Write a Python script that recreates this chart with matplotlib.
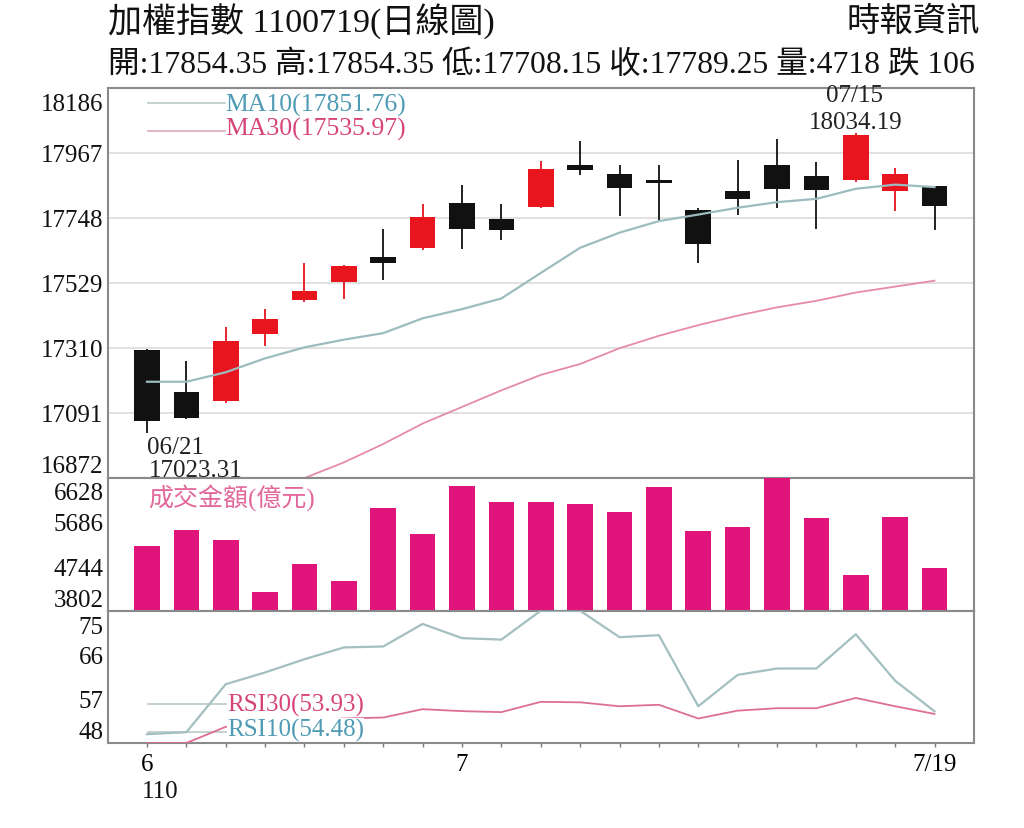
import matplotlib
matplotlib.use('Agg')
import matplotlib.pyplot as plt
import matplotlib.transforms as mtransforms
import numpy as np

# ---------------- data ----------------
dates = ['06/21', '06/22', '06/23', '06/24', '06/25', '06/28', '06/29', '06/30',
         '07/01', '07/02', '07/05', '07/06', '07/07', '07/08', '07/09', '07/12',
         '07/13', '07/14', '07/15', '07/16', '07/19']
opens = [17302, 17160, 17129, 17356, 17470, 17533, 17616, 17647, 17799, 17745, 17784,
         17925, 17896, 17877, 17776, 17840, 17927, 17888, 17877, 17838, 17854.35]
highs = [17305, 17266, 17379, 17440, 17594, 17590, 17709, 17793, 17860, 17793, 17941,
         18006, 17927, 17927, 17780, 17944, 18014, 17938, 18034.19, 17916, 17854.35]
lows = [17023.31, 17070, 17125, 17317, 17465, 17474, 17537, 17640, 17644, 17672, 17780,
        17891, 17754, 17737, 17597, 17756, 17782, 17712, 17870, 17770, 17708.15]
closes = [17063, 17074, 17334, 17406, 17500, 17586, 17597, 17752, 17712, 17707, 17913,
          17911, 17849, 17866, 17659, 17812, 17846, 17843, 18028, 17895, 17789.25]
ma10 = [17195, 17195, 17227, 17274, 17311, 17337, 17359, 17409, 17440, 17476, 17562,
        17647, 17698, 17737, 17759, 17782, 17801, 17812, 17846, 17860, 17851.76]
ma30 = [16760, 16780, 16805, 16835, 16870, 16923, 16985, 17054, 17110, 17166, 17218,
        17255, 17308, 17350, 17386, 17418, 17446, 17468, 17496, 17516, 17535.97]
volume = [5168, 5510, 5296, 4208, 4799, 4442, 5973, 5439, 6457, 6116, 6101,
          6058, 5902, 6421, 5488, 5574, 6628, 5759, 4564, 5781, 4718]
rsi10 = [49.8, 50.2, 60.0, 62.4, 65.1, 67.5, 67.7, 72.3, 69.4, 69.1, 75.0,
         75.0, 69.6, 70.0, 55.5, 61.9, 63.2, 63.2, 70.2, 60.7, 54.48]
rsi30 = [48.0, 48.0, 51.3, 51.9, 52.5, 53.0, 53.2, 54.9, 54.5, 54.3, 56.4,
         56.3, 55.5, 55.8, 53.0, 54.6, 55.1, 55.1, 57.2, 55.5, 53.93]
price_ticks = [16872, 17091, 17310, 17529, 17748, 17967, 18186]
vol_ticks = [3802, 4744, 5686, 6628]
rsi_ticks = [48, 57, 66, 75]
x_labels = {0: '6', 8: '7', 20: '7/19'}

title_text = '加權指數 1100719(日線圖)'
source_text = '時報資訊'
info_text = '開:17854.35 高:17854.35 低:17708.15 收:17789.25 量:4718 跌 106'
vol_label = '成交金額(億元)'

# ---------------- style ----------------
plt.rcParams['font.family'] = ['Liberation Serif', 'Noto Sans CJK TC']
RED = '#E8141E'
BLACK = '#111111'
MAGENTA = '#E0147A'
MA10_C = '#9DBCBF'
MA30_C = '#E58BA8'
MA10_T = '#4F9BB5'
MA30_T = '#D6447A'
SPINE = '#8a8a8a'

fig = plt.figure(figsize=(10.24, 8.29), dpi=100)
H = 829.0
def fy(px):
    return 1 - px / H

L = 107.6 / 1024
W = (973.9 - 107.6) / 1024
ax1 = fig.add_axes([L, fy(478.5), W, fy(89) - fy(478.5)])
ax2 = fig.add_axes([L, fy(611.7), W, fy(478.5) - fy(611.7)], sharex=ax1)
ax3 = fig.add_axes([L, fy(744), W, fy(611.7) - fy(744)], sharex=ax1)

x = np.arange(len(dates))
o = np.array(opens); c = np.array(closes); hi = np.array(highs); lo = np.array(lows)
up = c >= o
colors = [RED if u else BLACK for u in up]

# ---------------- main panel ----------------
ax1.vlines(x, lo, hi, colors=colors, lw=1.3, zorder=3)
ax1.bar(x, np.abs(c - o), bottom=np.minimum(o, c), width=0.65, color=colors, zorder=4)
ax1.plot(x, ma10, color=MA10_C, lw=1.6, zorder=5)
ax1.plot(x, ma30, color=MA30_C, lw=1.3, zorder=5)
ax1.set_ylim(price_ticks[0], price_ticks[-1])
ax1.set_yticks(price_ticks)
ax1.set_yticklabels([str(t) for t in price_ticks])
ax1.grid(axis='y', color='#dcdcdc', lw=1.2, zorder=0)

# annotations for low / high
ilo = int(np.argmin(lo)); ihi = int(np.argmax(hi))
ax1.annotate(dates[ilo], xy=(x[ilo], lo[ilo]), xytext=(0, -10), textcoords='offset points',
             ha='left', va='center', fontsize=18, color='#222222', annotation_clip=False)
ax1.annotate(f'{lo[ilo]:.2f}', xy=(x[ilo], lo[ilo]), xytext=(1, -27), textcoords='offset points',
             ha='left', va='center', fontsize=18, color='#222222', annotation_clip=False)
ax1.annotate(dates[ihi], xy=(x[ihi], hi[ihi]), xytext=(-1, 27.5), textcoords='offset points',
             ha='center', va='center', fontsize=18, color='#222222', annotation_clip=False)
ax1.annotate(f'{hi[ihi]:.2f}', xy=(x[ihi], hi[ihi]), xytext=(0, 8), textcoords='offset points',
             ha='center', va='center', fontsize=18, color='#222222', annotation_clip=False)

# MA legend
ax1.plot([0.0467, 0.1355], [0.9615, 0.9615], transform=ax1.transAxes, color='#b9c9ca', lw=1.2)
ax1.plot([0.0467, 0.1355], [0.8896, 0.8896], transform=ax1.transAxes, color='#d9aab8', lw=1.2)
ax1.text(0.1355, 0.957, f'MA10({ma10[-1]:.2f})', transform=ax1.transAxes, ha='left', va='center',
         fontsize=18.5, color=MA10_T)
ax1.text(0.1355, 0.895, f'MA30({ma30[-1]:.2f})', transform=ax1.transAxes, ha='left', va='center',
         fontsize=18.5, color=MA30_T)

# ---------------- volume panel ----------------
ax2.bar(x, volume, width=0.65, color=MAGENTA, zorder=3)
ax2.set_ylim(vol_ticks[0], vol_ticks[-1])
ax2.set_yticks(vol_ticks)
ax2.set_yticklabels([str(t) for t in vol_ticks])
ax2.text(0.0467, 0.854, vol_label, transform=ax2.transAxes, ha='left', va='center',
         fontsize=18, color='#E2679A', zorder=5)

# ---------------- RSI panel ----------------
ax3.plot(x, rsi10, color='#A3BFC0', lw=1.6, zorder=3)
ax3.plot(x, rsi30, color='#DC6F92', lw=1.3, zorder=3)
ax3.set_ylim(rsi_ticks[0], rsi_ticks[-1])
ax3.set_yticks(rsi_ticks)
ax3.set_yticklabels([str(t) for t in rsi_ticks])
ax3.plot([0.0467, 0.1378], [0.295, 0.295], transform=ax3.transAxes, color='#b9c9ca', lw=1.2, zorder=2)
ax3.plot([0.0467, 0.1378], [0.083, 0.083], transform=ax3.transAxes, color='#b9c9ca', lw=1.2, zorder=2)
ax3.text(0.1378, 0.295, f'RSI30({rsi30[-1]:.2f})', transform=ax3.transAxes, ha='left', va='center',
         fontsize=18, color=MA30_T, zorder=6,
         bbox=dict(facecolor='white', edgecolor='none', pad=0))
ax3.text(0.1378, 0.10, f'RSI10({rsi10[-1]:.2f})', transform=ax3.transAxes, ha='left', va='center',
         fontsize=18, color=MA10_T, zorder=6,
         bbox=dict(facecolor='white', edgecolor='none', pad=0))

ax3.set_xlim(-1, len(dates))
ax3.set_xticks(x)
ax3.set_xticklabels([x_labels.get(i, '') for i in x])
ax3.tick_params(axis='x', length=3, width=1, color='#777777', labelsize=18, pad=4)
trans = mtransforms.blended_transform_factory(ax3.transData, ax3.transAxes)
ax3.text(-0.12, -0.36, '110', transform=trans, ha='left', va='center', fontsize=18, color='#111111')

down_shift = mtransforms.ScaledTranslation(0, -3.5 / 72, fig.dpi_scale_trans)
for ax in (ax1, ax2, ax3):
    for s in ax.spines.values():
        s.set_color(SPINE)
        s.set_linewidth(1.5)
    ax.tick_params(axis='y', length=0, labelsize=18, pad=3, labelcolor='#111111')
    ax.set_facecolor('white')
    # keep end labels inside their panel
    labs = ax.get_yticklabels()
    labs[0].set_verticalalignment('bottom')
    labs[-1].set_verticalalignment('top')
    labs[-1].set_transform(labs[-1].get_transform() + down_shift)
for ax in (ax1, ax2):
    ax.tick_params(axis='x', length=0, labelbottom=False)

# ---------------- header ----------------
fig.text(108 / 1024, fy(22), title_text, ha='left', va='center', fontsize=24.5, color='#111111')
fig.text(980 / 1024, fy(22), source_text, ha='right', va='center', fontsize=24, color='#111111')
fig.text(108 / 1024, fy(65), info_text, ha='left', va='center', fontsize=22.8, color='#111111')

fig.savefig('out.png', dpi=100, facecolor='white')
